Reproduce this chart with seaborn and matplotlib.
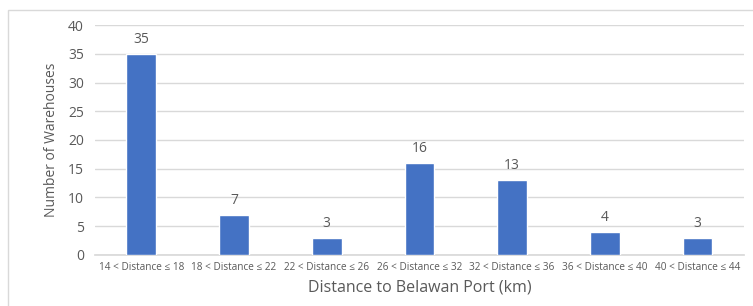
import seaborn as sns
import matplotlib.pyplot as plt
from matplotlib.patches import Rectangle

sns.set_theme(style="white")
plt.rcParams['font.family'] = ['Open Sans', 'DejaVu Sans']

categories = ["14 < Distance \u2264 18", "18 < Distance \u2264 22", "22 < Distance \u2264 26",
              "26 < Distance \u2264 32", "32 < Distance \u2264 36", "36 < Distance \u2264 40",
              "40 < Distance \u2264 44"]
counts = [35, 7, 3, 16, 13, 4, 3]
yticks = [0, 5, 10, 15, 20, 25, 30, 35, 40]

txt = "#595959"
fig = plt.figure(figsize=(7.53, 3.06), dpi=100)
ax = fig.add_axes([0.126, 0.167, 0.862, 0.751])

sns.barplot(x=categories, y=counts, color="#4472C4", width=0.32, saturation=1, ax=ax, zorder=3)
for c in ax.containers:
    ax.bar_label(c, padding=5, fontsize=10, color=txt)

ax.set_ylim(0, 40)
ax.set_xlim(-0.5, 6.5)
ax.set_yticks(yticks)
ax.yaxis.grid(True, color="#D9D9D9", linewidth=1, zorder=0)
for s in ["top", "right", "left"]:
    ax.spines[s].set_visible(False)
ax.spines["bottom"].set_color("#D9D9D9")
ax.tick_params(axis="y", labelsize=10, colors=txt, length=0, pad=8)
ax.tick_params(axis="x", labelsize=7.2, colors=txt, length=0, pad=5)
ax.set_ylabel("Number of Warehouses", fontsize=10, color=txt, labelpad=6)
ax.set_xlabel("Distance to Belawan Port (km)", fontsize=11.5, color=txt, labelpad=5)

fig.patches.append(Rectangle((8 / 753, -0.1), 1.0, 1 - 10 / 306 + 0.1, transform=fig.transFigure,
                             fill=False, edgecolor="#D9D9D9", linewidth=1))

fig.savefig("out.png", dpi=100)
